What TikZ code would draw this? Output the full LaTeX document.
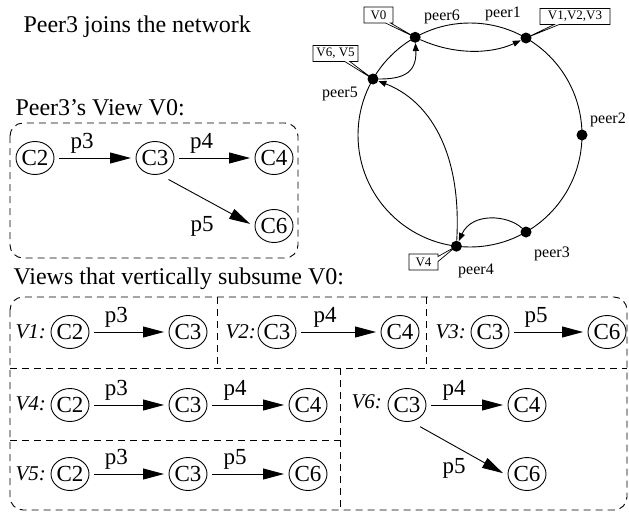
\documentclass[tikz,border=0pt]{standalone}
\usepackage{fontspec}
\setmainfont{Liberation Serif}
\usetikzlibrary{arrows.meta,shapes.geometric,shapes.callouts}

\begin{document}
\begin{tikzpicture}[x=1pt,y=-1pt,
  every node/.style={font=\fontsize{23}{26}\selectfont},
  heading/.style={anchor=base west,font=\fontsize{24}{28}\selectfont},
  cnode/.style={ellipse,draw,line width=0.9pt,minimum width=38pt,minimum height=33pt,
                inner sep=0pt,outer sep=5pt},
  edgearrow/.style={-{Triangle[length=21pt,width=11pt]},line width=0.9pt},
  lbl/.style={pos=0.32,anchor=base,yshift=10pt},
  freelbl/.style={anchor=base},
  vlab/.style={anchor=base west,font=\itshape\fontsize{21}{25}\selectfont},
  groupbox/.style={line width=0.9pt,dash pattern=on 7pt off 5pt,rounded corners=13pt},
  divider/.style={line width=0.9pt,dash pattern=on 7pt off 5pt},
  peer/.style={circle,fill=black,inner sep=0pt,minimum size=11pt},
  peertext/.style={anchor=base,font=\fontsize{16}{18}\selectfont},
  callbox/.style={rectangle callout,draw,line width=0.7pt,inner sep=1.5pt,
                  minimum height=16pt,callout pointer width=5pt,
                  font=\fontsize{13}{15}\selectfont},
  ringarrow/.style={-{Triangle[length=8pt,width=6pt]},line width=0.9pt}]

\useasboundingbox (0,0) rectangle (629,514);

% ---------- headings ----------
\node[heading] (title) at (20,32) {Peer3 joins the network};
\node[heading] (v0head) at (12,115) {Peer3’s View V0:};
\node[heading] (subhead) at (10,284) {Views that vertically subsume V0:};

% ---------- view V0 ----------
\draw[groupbox] (10,123) rectangle (298,258);
\node[cnode] (v0a) at (35,158) {C2};
\node[cnode] (v0b) at (155,158) {C3};
\node[cnode] (v0c) at (274,158) {C4};
\node[cnode] (v0d) at (274,226) {C6};
\draw[edgearrow] (v0a) -- node[lbl] {p3} (v0b);
\draw[edgearrow] (v0b) -- node[lbl] {p4} (v0c);
\draw[edgearrow,shorten <=4pt] (v0b.-63) -- (v0d.175);
\node[freelbl] (v0p5) at (202,231) {p5};

% ---------- subsuming views: frame and dividers ----------
\draw[groupbox] (10,297) rectangle (627,510);
\draw[divider] (10,368) -- (627,368);
\draw[divider] (217,297) -- (217,368);
\draw[divider] (426,297) -- (426,368);
\draw[divider] (340,368) -- (340,510);
\draw[divider] (10,440) -- (340,440);

% V1
\node[vlab] (lv1) at (12,338) {V1:};
\node[cnode] (a1) at (70,332) {C2};
\node[cnode] (a2) at (188,332) {C3};
\draw[edgearrow] (a1) -- node[lbl] {p3} (a2);
% V2
\node[vlab] (lv2) at (222,338) {V2:};
\node[cnode] (b1) at (277,332) {C3};
\node[cnode] (b2) at (400,332) {C4};
\draw[edgearrow] (b1) -- node[lbl] {p4} (b2);
% V3
\node[vlab] (lv3) at (432,338) {V3:};
\node[cnode] (c1) at (490,332) {C3};
\node[cnode] (c2) at (607,332) {C6};
\draw[edgearrow] (c1) -- node[lbl] {p5} (c2);
% V4
\node[vlab] (lv4) at (12,410) {V4:};
\node[cnode] (d1) at (70,405) {C2};
\node[cnode] (d2) at (188,405) {C3};
\node[cnode] (d3) at (308,405) {C4};
\draw[edgearrow] (d1) -- node[lbl] {p3} (d2);
\draw[edgearrow] (d2) -- node[lbl] {p4} (d3);
% V5
\node[vlab] (lv5) at (12,480) {V5:};
\node[cnode] (e1) at (70,474) {C2};
\node[cnode] (e2) at (188,474) {C3};
\node[cnode] (e3) at (308,474) {C6};
\draw[edgearrow] (e1) -- node[lbl] {p3} (e2);
\draw[edgearrow] (e2) -- node[lbl] {p5} (e3);
% V6
\node[vlab] (lv6) at (348,408) {V6:};
\node[cnode] (f1) at (407,405) {C3};
\node[cnode] (f2) at (527,405) {C4};
\node[cnode] (f3) at (527,474) {C6};
\draw[edgearrow] (f1) -- node[lbl] {p4} (f2);
\draw[edgearrow,shorten <=4pt] (f1.-64) -- (f3.178);
\node[freelbl] (f1p5) at (454,473) {p5};

% ---------- peer ring ----------
\node[circle,draw,line width=0.9pt,minimum size=224pt,inner sep=0pt] (ring) at (470,135) {};
\node[peer] (p6) at (415.2,37.3) {};
\node[peer] (p1) at (526,38) {};
\node[peer] (p2) at (582,135) {};
\node[peer] (p3) at (526,232) {};
\node[peer] (p4) at (456.4,246.2) {};
\node[peer] (p5) at (373,79) {};

\node[peertext] (n6) at (442,20) {peer6};
\node[peertext] (n1) at (503,17) {peer1};
\node[peertext] (n2) at (608,123) {peer2};
\node[peertext] (n3) at (552,257) {peer3};
\node[peertext] (n4) at (476,274) {peer4};
\node[peertext] (n5) at (340,97) {peer5};

% query forwarding along the ring
\draw[ringarrow] (p3) .. controls (508,215) and (472,212) .. (p4);
\draw[ringarrow] (p4) .. controls (462,150) and (428,100) .. (p5);
\draw[ringarrow] (p5) .. controls (400,79) and (417,75) .. (p6);
\draw[ringarrow] (p6) .. controls (452,54) and (489,55) .. (p1);

% view tags
\node[callbox,minimum width=29pt,callout absolute pointer={(p6.center)}] (tag0) at (378.5,15) {V0};
\node[callbox,minimum width=70pt,callout absolute pointer={(p1.center)}] (tag1) at (575,16.5) {V1,V2,V3};
\node[callbox,minimum width=45pt,callout absolute pointer={(p5.center)}] (tag2) at (335.5,53.5) {V6, V5};
\node[callbox,minimum width=29pt,callout absolute pointer={(p4.center)}] (tag3) at (423.5,262) {V4};
\end{tikzpicture}
\end{document}
